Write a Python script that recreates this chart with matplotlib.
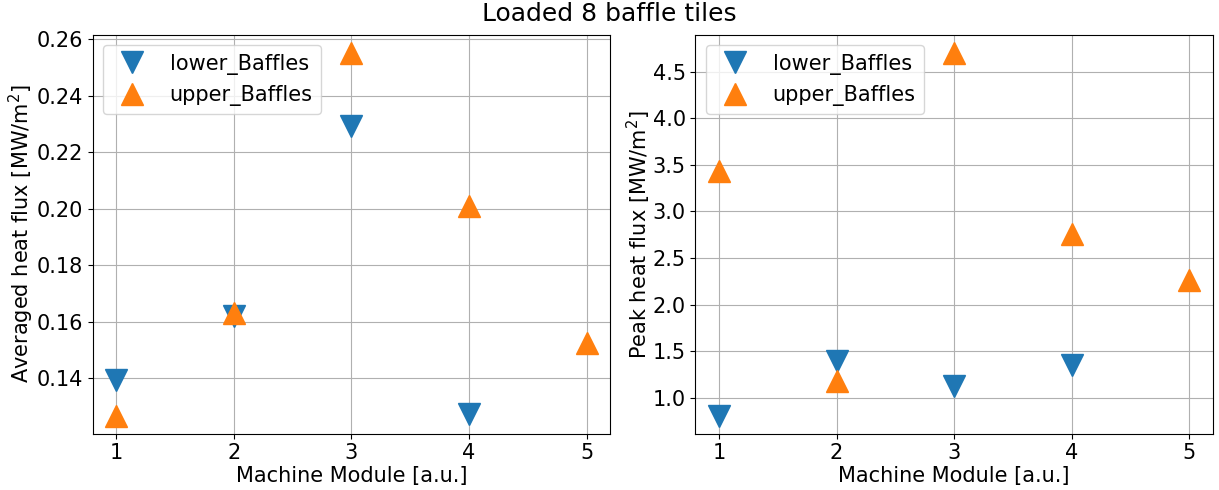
import numpy as np, matplotlib
matplotlib.use("Agg")
import matplotlib.pyplot as plt

# averaged and peak heat flux per machine module
modules_lower = [1, 2, 3, 4]
modules_upper = [1, 2, 3, 4, 5]
avg_lower = [0.1395, 0.1619, 0.2292, 0.1272]
avg_upper = [0.1268, 0.1630, 0.2551, 0.2008, 0.1526]
peak_lower = [0.81, 1.396, 1.125, 1.357]
peak_upper = [3.43, 1.18, 4.70, 2.757, 2.268]

plt.rcParams.update({"font.size": 15, "font.family": "DejaVu Sans"})

fig, axs = plt.subplots(1, 2, figsize=(12.19, 4.9), dpi=100)
fig.subplots_adjust(left=0.076, right=0.995, top=0.929, bottom=0.115, wspace=0.165)

def panel(ax, lo, up, ylabel):
    ax.plot(modules_lower, lo, "v", color="tab:blue", markersize=16, label="lower_Baffles")
    ax.plot(modules_upper, up, "^", color="tab:orange", markersize=16, label="upper_Baffles")
    ax.set_xlabel("Machine Module [a.u.]", labelpad=2)
    ax.set_ylabel(ylabel, labelpad=0)
    ax.set_xticks([1, 2, 3, 4, 5])
    ax.grid(True)
    ax.legend(loc="upper left")

panel(axs[0], avg_lower, avg_upper, r"Averaged heat flux [MW/m$^2$]")
panel(axs[1], peak_lower, peak_upper, r"Peak heat flux [MW/m$^2$]")

fig.suptitle("Loaded 8 baffle tiles", fontsize=18, y=0.995)
plt.savefig("out.png", dpi=100)
